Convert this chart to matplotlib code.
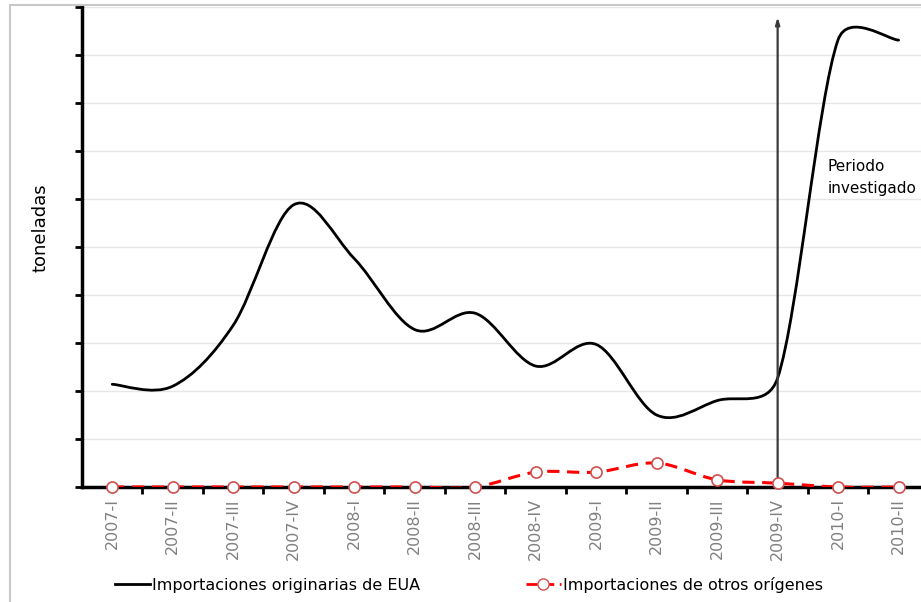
import numpy as np
import matplotlib
matplotlib.use("Agg")
import matplotlib.pyplot as plt
from matplotlib.path import Path
from matplotlib.patches import PathPatch, Rectangle
from matplotlib.lines import Line2D

categories = ["2007-I", "2007-II", "2007-III", "2007-IV", "2008-I", "2008-II", "2008-III",
              "2008-IV", "2009-I", "2009-II", "2009-III", "2009-IV", "2010-I", "2010-II"]
eua = [2.14, 2.10, 3.37, 5.88, 4.76, 3.28, 3.62, 2.52, 2.97, 1.50, 1.80, 2.27, 9.32, 9.31]
otros = [0, 0, 0, 0, 0, 0, 0, 0.31, 0.31, 0.50, 0.15, 0.08, 0, 0]
label_eua = "Importaciones originarias de EUA"
label_otros = "Importaciones de otros orígenes"
period_idx = 11
period_label = "Periodo\ninvestigado"

W, H = 921, 602
XMIN, XMAX = -0.5, 13.37
AX_L, AX_B, AX_T = 82, 487, 7
SX = (W - AX_L) / (XMAX - XMIN)   # px per category
SY = (AX_B - AX_T) / 10.0         # px per unit


def smooth_path(xs, ys):
    """Excel-like smoothed bezier through the points."""
    pts = np.column_stack([xs, ys]).astype(float)
    scale = np.array([SX, SY])
    n = len(pts)

    def d(a, b):
        return np.hypot(*((a - b) * scale))

    verts = [pts[0]]
    codes = [Path.MOVETO]
    for i in range(n - 1):
        p0 = pts[i - 1] if i > 0 else pts[i]
        p1 = pts[i]
        p2 = pts[i + 1]
        p3 = pts[i + 2] if i + 2 < n else pts[i + 1]
        d12 = d(p1, p2)
        d02 = d(p0, p2)
        d13 = d(p1, p3)
        f1 = 1 / 6.0
        if d02 / 6.0 >= d12 / 2.0 and d02 > 0:
            f1 = d12 / d02 / 2.0
        f2 = 1 / 6.0
        if d13 / 6.0 >= d12 / 2.0 and d13 > 0:
            f2 = d12 / d13 / 2.0
        c1 = p1 + (p2 - p0) * f1
        c2 = p2 - (p3 - p1) * f2
        verts += [c1, c2, p2]
        codes += [Path.CURVE4] * 3
    return Path(verts, codes)


fig = plt.figure(figsize=(9.21, 6.02), dpi=100)
ax = fig.add_axes([AX_L / W, 1 - AX_B / H, 1 - AX_L / W, (AX_B - AX_T) / H])

x = np.arange(len(categories))

ax.set_yticks(np.arange(0, 11, 1))
ax.yaxis.grid(True, color="#e6e6e6", lw=1)
ax.set_axisbelow(True)
ax.set_yticklabels([])
ax.tick_params(axis="y", direction="out", length=5, width=2, color="black")

ax.set_xticks(x)
ax.set_xticklabels(categories, rotation=90, color="#808080", fontsize=11.5)
ax.tick_params(axis="x", length=0, pad=8)
ax.set_xticks(np.arange(len(categories) - 1) + 0.5, minor=True)
ax.tick_params(axis="x", which="minor", direction="out", length=5, width=2, color="black")

ax.set_xlim(XMIN, XMAX)
ax.set_ylim(0, 10)

for s in ["top", "right"]:
    ax.spines[s].set_visible(False)
ax.spines["left"].set_linewidth(2.5)
ax.spines["bottom"].set_linewidth(2.5)
ax.spines["bottom"].set_zorder(3)

ax.add_patch(PathPatch(smooth_path(x, eua), fill=False, edgecolor="black", lw=2, zorder=4,
                       capstyle="round"))
ax.add_patch(PathPatch(smooth_path(x, otros), fill=False, edgecolor="#ff0000", lw=2.2,
                       linestyle=(0, (4, 2.5)), zorder=5))
ax.plot(x, otros, linestyle="none", marker="o", markersize=8, markerfacecolor="white",
        markeredgecolor="#d05050", markeredgewidth=1.2, zorder=6, clip_on=False)

ax.annotate("", xy=(period_idx, 9.85), xytext=(period_idx, 0),
            arrowprops=dict(arrowstyle="-|>,head_length=0.4,head_width=0.12",
                            color="#3a3a3a", lw=1.6), zorder=4)
ax.text(period_idx + 0.82, 6.45, period_label, fontsize=11, ha="left", va="center",
        color="black", linespacing=1.55)

fig.text(40 / W, 1 - 228 / H, "toneladas", rotation=90, ha="center", va="center",
         fontsize=13)

h1 = Line2D([], [], color="black", lw=2)
h2 = Line2D([], [], color="#ff0000", lw=2, linestyle=(0, (4, 2)), marker="o",
            markersize=8, markerfacecolor="white", markeredgecolor="#d05050")
fig.legend([h1, h2], [label_eua, label_otros], ncol=2, loc="center",
           bbox_to_anchor=(469 / W, 1 - 585 / H), frameon=False, fontsize=11.5,
           handlelength=2.2, handletextpad=0.15, columnspacing=6.6)

fig.patches.append(Rectangle((10 / W, -0.1), 1.2, (H - 5) / H + 0.1, transform=fig.transFigure,
                             fill=False, edgecolor="#c8c8c8", lw=1.5))

fig.savefig("out.png", dpi=100)
